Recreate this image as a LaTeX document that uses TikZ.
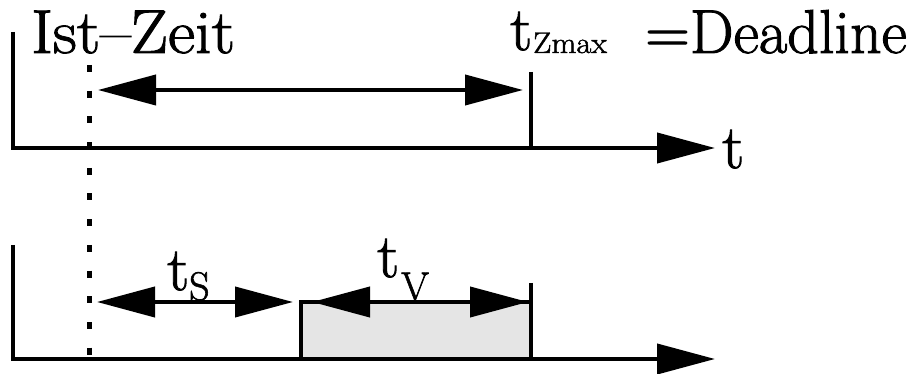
\documentclass[tikz,border=0pt]{standalone}
\usepackage{fontspec}
\newfontfamily\lmheavy[FakeBold=1.5]{Latin Modern Roman}
\usetikzlibrary{arrows.meta}
\definecolor{boxgray}{HTML}{E5E5E5}
\tikzset{
  axisline/.style={line width=4pt, line join=miter, -{Triangle[length=58pt,width=30pt]}},
  dimarrow/.style={line width=4pt, {Triangle[length=58pt,width=30pt]}-{Triangle[length=58pt,width=30pt]}},
  plainline/.style={line width=4pt},
  dotline/.style={line width=5pt, dash pattern=on 7pt off 18.7pt},
  bigtext/.style={inner sep=0pt, anchor=base west, font=\lmheavy\fontsize{62}{68}\selectfont},
  subtext/.style={inner sep=0pt, anchor=base west, font=\lmheavy\fontsize{40}{44}\selectfont},
  smalltext/.style={inner sep=0pt, anchor=base west, font=\lmheavy\fontsize{30}{34}\selectfont}
}
\begin{document}
\begin{tikzpicture}[x=1pt,y=-1pt]
\useasboundingbox (0,0) rectangle (916,374);
% coordinates
\coordinate (tTop) at (13,32);
\coordinate (tCorner) at (13,148);
\coordinate (tEnd) at (715,148);
\coordinate (bTop) at (13,245);
\coordinate (bCorner) at (13,359);
\coordinate (bEnd) at (715,359);
\coordinate (dotA) at (89,65);
\coordinate (dotB) at (89,356);
\coordinate (dlTop) at (531,72);
\coordinate (dlBot) at (531,148);
\coordinate (arrL) at (98,90);
\coordinate (arrR) at (523,90);
\coordinate (boxBL) at (301,359);
\coordinate (boxTR) at (531,302);
\coordinate (vTop) at (531,283);
\coordinate (vBot) at (531,359);
\coordinate (sL) at (97,302);
\coordinate (sR) at (293,302);
\coordinate (vL) at (312,302);
\coordinate (vR) at (528,302);
% gray box
\draw[plainline, fill=boxgray, line join=miter] (boxBL) rectangle (boxTR);
% axes
\draw[axisline] (tTop) -- (tCorner) -- (tEnd);
\draw[axisline] (bTop) -- (bCorner) -- (bEnd);
% dotted line
\draw[dotline] (dotA) -- (dotB);
% deadline lines
\draw[plainline] (dlTop) -- (dlBot);
\draw[plainline] (vTop) -- (vBot);
% dimension arrows
\draw[dimarrow] (arrL) -- (arrR);
\draw[dimarrow] (sL) -- (sR);
\draw[dimarrow] (vL) -- (vR);
% texts
\node[bigtext] (ist) at (31,53) {\scalebox{1.07}[1]{Ist–Zeit}};
\node[bigtext] (tz) at (510,50) {t};
\node[smalltext] (zmax) at (533,53) {\scalebox{1.08}[1]{Zmax}};
\node[bigtext] (dead) at (645,53) {=Deadline};
\node[bigtext] (taxis) at (722,168) {t};
\node[bigtext] (ts) at (167,290) {t};
\node[subtext] (tssub) at (189,300) {S};
\node[bigtext] (tv) at (377,277) {t};
\node[subtext] (tvsub) at (401,300) {V};
\end{tikzpicture}
\end{document}
